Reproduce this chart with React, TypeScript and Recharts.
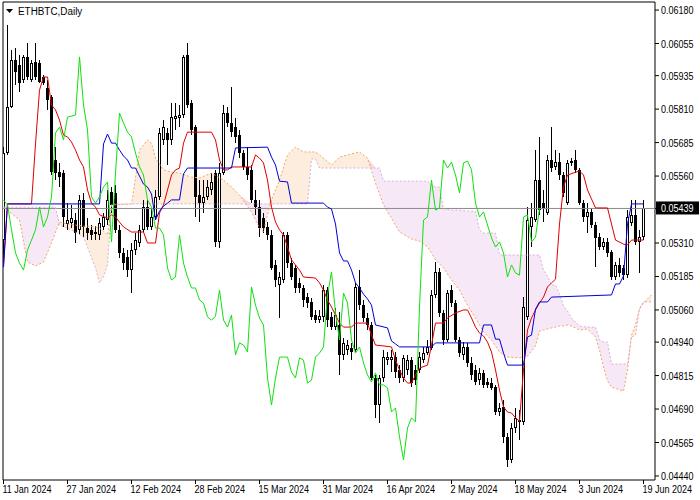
import { ComposedChart, Bar, Line, Area, XAxis, YAxis, ReferenceLine, ReferenceArea } from 'recharts';

const AXIS_FONT = "'Liberation Sans', Arial, sans-serif";

// daily bars, day 0 = 11 Jan 2024
const opens = [
  0.05321, 0.05646, 0.05818, 0.05993, 0.05975, 0.05919, 0.06005, 0.05919, 0.05986, 0.05982,
  0.05930, 0.05889, 0.05855, 0.05620, 0.05575, 0.05571, 0.05381, 0.05385, 0.05396, 0.05359,
  0.05471, 0.05366, 0.05359, 0.05351, 0.05340, 0.05370, 0.05396, 0.05500, 0.05497, 0.05359,
  0.05273, 0.05258, 0.05209, 0.05284, 0.05310, 0.05359, 0.05444, 0.05370, 0.05407, 0.05482,
  0.05695, 0.05721, 0.05695, 0.05773, 0.05777, 0.05788, 0.06012, 0.05833, 0.05743, 0.05489,
  0.05459, 0.05482, 0.05508, 0.05571, 0.05314, 0.05571, 0.05795, 0.05758, 0.05743, 0.05713,
  0.05646, 0.05594, 0.05583, 0.05471, 0.05444, 0.05403, 0.05370, 0.05340, 0.05228, 0.05153,
  0.05172, 0.05340, 0.05235, 0.05217, 0.05161, 0.05142, 0.05108, 0.05090, 0.05041, 0.05022,
  0.05034, 0.05134, 0.05034, 0.04996, 0.05004, 0.04892, 0.04910, 0.04918, 0.04910, 0.05146,
  0.05078, 0.05030, 0.05004, 0.04806, 0.04705, 0.04806, 0.04873, 0.04873, 0.04884, 0.04836,
  0.04806, 0.04836, 0.04873, 0.04836, 0.04836, 0.04873, 0.04899, 0.04918, 0.05116, 0.05202,
  0.05049, 0.04948, 0.05134, 0.05086, 0.04948, 0.04892, 0.04922, 0.04862, 0.04836, 0.04798,
  0.04825, 0.04791, 0.04787, 0.04772, 0.04679, 0.04698, 0.04586, 0.04500, 0.04619, 0.04649,
  0.04642, 0.05034, 0.05370, 0.05396, 0.05545, 0.05459, 0.05422, 0.05620, 0.05594, 0.05612,
  0.05564, 0.05459, 0.05609, 0.05620, 0.05583, 0.05459, 0.05407, 0.05426, 0.05377, 0.05332,
  0.05295, 0.05314, 0.05277, 0.05183, 0.05228, 0.05217, 0.05190, 0.05385, 0.05415, 0.05314,
  0.05332,
];
const highs = [
  0.05668, 0.06124, 0.06031, 0.06038, 0.06012, 0.06012, 0.06057, 0.05993, 0.06057, 0.05993,
  0.05937, 0.05919, 0.05863, 0.05668, 0.05609, 0.05583, 0.05459, 0.05452, 0.05422, 0.05489,
  0.05497, 0.05403, 0.05377, 0.05373, 0.05403, 0.05422, 0.05508, 0.05519, 0.05527, 0.05377,
  0.05291, 0.05284, 0.05310, 0.05347, 0.05377, 0.05471, 0.05471, 0.05441, 0.05508, 0.05739,
  0.05769, 0.05739, 0.05833, 0.05833, 0.05825, 0.06012, 0.06057, 0.05844, 0.05751, 0.05545,
  0.05545, 0.05545, 0.05571, 0.05583, 0.05609, 0.05825, 0.05818, 0.05892, 0.05777, 0.05732,
  0.05657, 0.05668, 0.05601, 0.05508, 0.05471, 0.05422, 0.05388, 0.05359, 0.05247, 0.05202,
  0.05351, 0.05351, 0.05254, 0.05228, 0.05179, 0.05153, 0.05123, 0.05105, 0.05060, 0.05060,
  0.05153, 0.05146, 0.05052, 0.05067, 0.05052, 0.04955, 0.04948, 0.04937, 0.05161, 0.05209,
  0.05097, 0.05049, 0.05015, 0.04817, 0.04817, 0.04910, 0.04903, 0.04910, 0.04903, 0.04854,
  0.04892, 0.04892, 0.04884, 0.04854, 0.04903, 0.04922, 0.04948, 0.05134, 0.05239, 0.05217,
  0.05060, 0.05134, 0.05153, 0.05097, 0.04959, 0.04940, 0.04937, 0.04884, 0.04854, 0.04843,
  0.04836, 0.04806, 0.04806, 0.04780, 0.04713, 0.04724, 0.04601, 0.04638, 0.04694, 0.04686,
  0.05108, 0.05444, 0.05459, 0.05657, 0.05706, 0.05508, 0.05639, 0.05743, 0.05657, 0.05646,
  0.05575, 0.05620, 0.05627, 0.05657, 0.05590, 0.05471, 0.05459, 0.05441, 0.05388, 0.05347,
  0.05329, 0.05329, 0.05284, 0.05239, 0.05254, 0.05228, 0.05433, 0.05471, 0.05471, 0.05359,
  0.05471,
];
const lows = [
  0.05235, 0.05639, 0.05814, 0.05900, 0.05874, 0.05907, 0.05919, 0.05911, 0.05919, 0.05907,
  0.05900, 0.05807, 0.05564, 0.05545, 0.05519, 0.05370, 0.05359, 0.05366, 0.05310, 0.05340,
  0.05332, 0.05321, 0.05321, 0.05321, 0.05321, 0.05359, 0.05377, 0.05422, 0.05347, 0.05254,
  0.05209, 0.05183, 0.05123, 0.05265, 0.05295, 0.05351, 0.05359, 0.05359, 0.05396, 0.05471,
  0.05676, 0.05601, 0.05676, 0.05732, 0.05743, 0.05777, 0.05814, 0.05713, 0.05407, 0.05388,
  0.05422, 0.05471, 0.05489, 0.05295, 0.05291, 0.05564, 0.05743, 0.05706, 0.05683, 0.05627,
  0.05583, 0.05545, 0.05459, 0.05415, 0.05332, 0.05347, 0.05321, 0.05209, 0.05146, 0.05030,
  0.05161, 0.05217, 0.05172, 0.05123, 0.05123, 0.05071, 0.05067, 0.05022, 0.05011, 0.05011,
  0.05015, 0.04996, 0.04985, 0.04985, 0.04817, 0.04873, 0.04892, 0.04873, 0.04903, 0.05060,
  0.05015, 0.04985, 0.04798, 0.04657, 0.04638, 0.04791, 0.04854, 0.04828, 0.04806, 0.04787,
  0.04791, 0.04817, 0.04772, 0.04780, 0.04825, 0.04862, 0.04892, 0.04910, 0.05105, 0.05034,
  0.04929, 0.04940, 0.05071, 0.04940, 0.04884, 0.04873, 0.04847, 0.04798, 0.04780, 0.04780,
  0.04769, 0.04769, 0.04761, 0.04668, 0.04664, 0.04563, 0.04474, 0.04489, 0.04601, 0.04574,
  0.04630, 0.05022, 0.05295, 0.05388, 0.05415, 0.05388, 0.05415, 0.05575, 0.05583, 0.05545,
  0.05482, 0.05452, 0.05597, 0.05571, 0.05452, 0.05388, 0.05347, 0.05366, 0.05220, 0.05284,
  0.05284, 0.05258, 0.05172, 0.05172, 0.05183, 0.05172, 0.05179, 0.05373, 0.05303, 0.05198,
  0.05321,
];
const closes = [
  0.05646, 0.05818, 0.05993, 0.05949, 0.05907, 0.06005, 0.05930, 0.05982, 0.05930, 0.05911,
  0.05907, 0.05844, 0.05575, 0.05571, 0.05556, 0.05407, 0.05396, 0.05403, 0.05347, 0.05471,
  0.05370, 0.05347, 0.05340, 0.05344, 0.05385, 0.05407, 0.05471, 0.05452, 0.05359, 0.05273,
  0.05235, 0.05209, 0.05284, 0.05321, 0.05359, 0.05444, 0.05370, 0.05407, 0.05482, 0.05721,
  0.05743, 0.05695, 0.05780, 0.05784, 0.05788, 0.06005, 0.05825, 0.05732, 0.05482, 0.05459,
  0.05482, 0.05519, 0.05538, 0.05314, 0.05571, 0.05795, 0.05758, 0.05724, 0.05706, 0.05646,
  0.05594, 0.05564, 0.05471, 0.05444, 0.05366, 0.05366, 0.05340, 0.05217, 0.05172, 0.05183,
  0.05340, 0.05235, 0.05183, 0.05142, 0.05142, 0.05097, 0.05086, 0.05034, 0.05022, 0.05037,
  0.05134, 0.05022, 0.04996, 0.05041, 0.04892, 0.04937, 0.04929, 0.04903, 0.05146, 0.05078,
  0.05030, 0.05004, 0.04806, 0.04705, 0.04806, 0.04884, 0.04884, 0.04884, 0.04828, 0.04806,
  0.04881, 0.04873, 0.04787, 0.04798, 0.04884, 0.04899, 0.04922, 0.05116, 0.05202, 0.05049,
  0.04948, 0.05123, 0.05086, 0.04948, 0.04899, 0.04922, 0.04862, 0.04817, 0.04791, 0.04825,
  0.04780, 0.04780, 0.04769, 0.04679, 0.04694, 0.04586, 0.04500, 0.04619, 0.04657, 0.04642,
  0.05071, 0.05396, 0.05407, 0.05545, 0.05433, 0.05441, 0.05620, 0.05590, 0.05612, 0.05564,
  0.05497, 0.05609, 0.05616, 0.05583, 0.05459, 0.05407, 0.05426, 0.05377, 0.05329, 0.05295,
  0.05314, 0.05273, 0.05183, 0.05228, 0.05198, 0.05190, 0.05407, 0.05415, 0.05314, 0.05332,
  0.05439,
];

// Tenkan-sen (red)
const tenkanDays = [
  0, 1, 7, 8, 9, 10, 11, 12, 13, 14,
  15, 16, 17, 18, 19, 20, 21, 22, 23, 24,
  26, 27, 28, 29, 30, 32, 35, 36, 38, 39,
  40, 41, 42, 43, 44, 45, 46, 52, 53, 54,
  55, 56, 57, 62, 63, 64, 65, 66, 67, 68,
  69, 70, 71, 72, 73, 74, 75, 78, 79, 80,
  81, 82, 83, 84, 85, 87, 88, 91, 92, 93,
  97, 98, 99, 100, 101, 102, 103, 104, 106, 107,
  108, 110, 111, 113, 115, 116, 117, 118, 119, 120,
  121, 122, 123, 124, 125, 126, 127, 128, 129, 130,
  131, 132, 133, 134, 135, 136, 137, 138, 139, 140,
  141, 144, 145, 146, 148, 151, 152, 153, 155, 156,
  157, 160,
];
const tenkanVals = [
  0.05228, 0.05456, 0.05456, 0.05680, 0.05881, 0.05930, 0.05930, 0.05825, 0.05807, 0.05769,
  0.05713, 0.05706, 0.05687, 0.05657, 0.05620, 0.05594, 0.05508, 0.05459, 0.05444, 0.05415,
  0.05403, 0.05415, 0.05407, 0.05388, 0.05370, 0.05351, 0.05351, 0.05310, 0.05310, 0.05422,
  0.05452, 0.05508, 0.05564, 0.05583, 0.05590, 0.05683, 0.05724, 0.05724, 0.05695, 0.05620,
  0.05583, 0.05583, 0.05594, 0.05594, 0.05639, 0.05627, 0.05609, 0.05545, 0.05444, 0.05388,
  0.05359, 0.05340, 0.05295, 0.05247, 0.05228, 0.05209, 0.05183, 0.05179, 0.05161, 0.05134,
  0.05097, 0.05071, 0.05041, 0.05011, 0.04996, 0.04996, 0.05011, 0.05011, 0.04966, 0.04929,
  0.04922, 0.04873, 0.04836, 0.04806, 0.04787, 0.04787, 0.04817, 0.04843, 0.04854, 0.04929,
  0.05011, 0.05011, 0.05030, 0.05049, 0.05060, 0.05060, 0.05030, 0.04996, 0.04974, 0.04963,
  0.04940, 0.04903, 0.04836, 0.04761, 0.04698, 0.04679, 0.04675, 0.04657, 0.04645, 0.04836,
  0.04985, 0.05030, 0.05060, 0.05086, 0.05108, 0.05146, 0.05161, 0.05175, 0.05381, 0.05519,
  0.05564, 0.05579, 0.05564, 0.05508, 0.05441, 0.05441, 0.05381, 0.05321, 0.05306, 0.05303,
  0.05321, 0.05321,
];

// Kijun-sen (blue)
const kijunDays = [
  0, 1, 24, 25, 26, 27, 28, 29, 30, 31,
  32, 33, 34, 35, 36, 37, 38, 39, 40, 41,
  42, 44, 45, 46, 57, 58, 66, 67, 68, 69,
  71, 72, 80, 81, 82, 83, 84, 85, 86, 87,
  88, 89, 90, 91, 92, 93, 96, 97, 98, 99,
  107, 108, 119, 120, 122, 123, 124, 125, 126, 130,
  131, 132, 133, 134, 136, 137, 152, 153, 154, 155,
  156, 157, 160,
];
const kijunVals = [
  0.05220, 0.05456, 0.05456, 0.05680, 0.05717, 0.05683, 0.05683, 0.05657, 0.05635, 0.05620,
  0.05590, 0.05590, 0.05560, 0.05530, 0.05519, 0.05493, 0.05396, 0.05429, 0.05448, 0.05459,
  0.05471, 0.05471, 0.05568, 0.05590, 0.05590, 0.05665, 0.05668, 0.05631, 0.05601, 0.05541,
  0.05538, 0.05459, 0.05459, 0.05444, 0.05437, 0.05381, 0.05273, 0.05243, 0.05243, 0.05209,
  0.05161, 0.05142, 0.05119, 0.05101, 0.05078, 0.05004, 0.04993, 0.04944, 0.04933, 0.04922,
  0.04922, 0.04937, 0.04937, 0.05004, 0.05004, 0.04951, 0.04951, 0.04899, 0.04854, 0.04854,
  0.04959, 0.04966, 0.05063, 0.05090, 0.05090, 0.05108, 0.05116, 0.05157, 0.05157, 0.05187,
  0.05381, 0.05456, 0.05456,
];

// Senkou span A / B, already shifted forward
const cloudDays = [
  0, 1, 4, 6, 8, 10, 12, 13, 14, 16,
  18, 20, 21, 23, 24, 25, 26, 27, 32, 33,
  34, 36, 37, 38, 40, 42, 44, 47, 49, 52,
  55, 57, 59, 62, 64, 65, 66, 67, 69, 71,
  73, 75, 76, 77, 78, 79, 80, 82, 84, 86,
  89, 91, 93, 94, 95, 97, 99, 102, 104, 106,
  107, 108, 109, 110, 112, 114, 116, 118, 119, 120,
  122, 123, 124, 126, 129, 131, 133, 134, 135, 136,
  137, 138, 139, 140, 141, 142, 143, 144, 146, 148,
  149, 150, 151, 152, 155, 156, 157, 158, 159, 160,
  161, 162,
];
const spanA = [
  0.05441, 0.05433, 0.05396, 0.05239, 0.05224, 0.05239, 0.05310, 0.05351, 0.05388, 0.05381,
  0.05377, 0.05373, 0.05373, 0.05370, 0.05366, 0.05355, 0.05340, 0.05452, 0.05456, 0.05553,
  0.05657, 0.05695, 0.05683, 0.05627, 0.05583, 0.05575, 0.05571, 0.05556, 0.05553, 0.05571,
  0.05545, 0.05519, 0.05489, 0.05426, 0.05366, 0.05351, 0.05415, 0.05471, 0.05545, 0.05639,
  0.05668, 0.05650, 0.05650, 0.05650, 0.05650, 0.05639, 0.05627, 0.05601, 0.05631, 0.05639,
  0.05650, 0.05627, 0.05534, 0.05493, 0.05452, 0.05403, 0.05351, 0.05325, 0.05317, 0.05295,
  0.05273, 0.05247, 0.05232, 0.05217, 0.05172, 0.05134, 0.05078, 0.05030, 0.05004, 0.04978,
  0.04948, 0.04925, 0.04903, 0.04884, 0.04881, 0.04888, 0.04925, 0.04981, 0.04985, 0.04989,
  0.04993, 0.04996, 0.05000, 0.05000, 0.05004, 0.05000, 0.04993, 0.04985, 0.04989, 0.04959,
  0.04910, 0.04847, 0.04795, 0.04772, 0.04757, 0.04836, 0.04966, 0.05004, 0.05063, 0.05086,
  0.05101, 0.05116,
];
const spanB = [
  0.05444, 0.05444, 0.05444, 0.05444, 0.05444, 0.05444, 0.05444, 0.05444, 0.05377, 0.05366,
  0.05351, 0.05332, 0.05295, 0.05217, 0.05161, 0.05183, 0.05228, 0.05456, 0.05456, 0.05456,
  0.05456, 0.05456, 0.05456, 0.05456, 0.05456, 0.05456, 0.05456, 0.05456, 0.05456, 0.05456,
  0.05456, 0.05456, 0.05456, 0.05456, 0.05456, 0.05456, 0.05456, 0.05456, 0.05456, 0.05456,
  0.05456, 0.05456, 0.05456, 0.05624, 0.05624, 0.05590, 0.05590, 0.05590, 0.05590, 0.05590,
  0.05590, 0.05590, 0.05590, 0.05590, 0.05541, 0.05541, 0.05541, 0.05541, 0.05541, 0.05541,
  0.05527, 0.05519, 0.05519, 0.05437, 0.05433, 0.05433, 0.05429, 0.05429, 0.05359, 0.05347,
  0.05347, 0.05347, 0.05265, 0.05265, 0.05265, 0.05265, 0.05265, 0.05265, 0.05209, 0.05187,
  0.05153, 0.05153, 0.05119, 0.05075, 0.05056, 0.05030, 0.05015, 0.05000, 0.04996, 0.04996,
  0.04948, 0.04940, 0.04940, 0.04858, 0.04858, 0.04858, 0.04959, 0.04966, 0.05067, 0.05090,
  0.05090, 0.05090,
];

const priceTicks = [
  0.0618, 0.06055, 0.05935, 0.0581, 0.05685, 0.0556, 0.0531,
  0.05185, 0.0506, 0.0494, 0.04815, 0.0469, 0.04565, 0.0444,
];
const lastPrice = 0.05439;
const dateTicks = [0, 16, 32, 48, 64, 80, 96, 112, 128, 144, 160];
const dateLabels = [
  '11 Jan 2024', '27 Jan 2024', '12 Feb 2024', '28 Feb 2024', '15 Mar 2024', '31 Mar 2024',
  '16 Apr 2024', '2 May 2024', '18 May 2024', '3 Jun 2024', '19 Jun 2024',
];

const candles = opens.map((open, i) => ({
  day: i,
  open,
  high: highs[i],
  low: lows[i],
  close: closes[i],
  range: [lows[i], highs[i]],
}));
const tenkan = tenkanDays.map((day, k) => ({ day, v: tenkanVals[k] }));
const kijun = kijunDays.map((day, k) => ({ day, v: kijunVals[k] }));
// chikou span = closes plotted 26 bars back
const chikou = closes.slice(26).map((v, day) => ({ day, v }));
const cloud = cloudDays.map((day, k) => {
  const a = spanA[k];
  const b = spanB[k];
  const top = Math.max(a, b);
  return { day, a, b, up: [b, top], down: [a, top] };
});

function Candle(props: any) {
  const { x, y, width, height, payload } = props;
  if (!payload || x == null || y == null) return null;
  const top = Math.min(y, y + height);
  const bottom = Math.max(y, y + height);
  const span = payload.high - payload.low || 1e-9;
  const toY = (v: number) => top + ((payload.high - v) / span) * (bottom - top);
  const cx = x + width / 2;
  const o = toY(payload.open);
  const c = toY(payload.close);
  const bt = Math.round(Math.min(o, c));
  let bb = Math.round(Math.max(o, c));
  if (bb - bt < 1) bb = bt + 1;
  const up = payload.close > payload.open;
  return (
    <g shapeRendering="crispEdges">
      <line x1={cx} x2={cx} y1={Math.round(top)} y2={Math.round(bottom)} stroke="#000" strokeWidth={1} />
      {up ? (
        <rect x={cx - 1} y={bt + 0.5} width={2} height={Math.max(bb - bt - 1, 1)} fill="#fff" stroke="#000" strokeWidth={1} />
      ) : (
        <rect x={cx - 1.5} y={bt} width={3} height={bb - bt} fill="#000" />
      )}
    </g>
  );
}

function PriceTick(props: any) {
  const { x, y, payload } = props;
  const v = payload.value;
  const label = v.toFixed(5);
  const t = `translate(${x},${y + 4}) scale(0.82,1)`;
  if (v === lastPrice) {
    return (
      <g>
        <rect x={x - 5} y={y - 7} width={43} height={13} fill="#000" />
        <text transform={t} fontSize={11} fontFamily={AXIS_FONT} fill="#fff">{label}</text>
      </g>
    );
  }
  return (
    <text transform={t} fontSize={11} fontFamily={AXIS_FONT} fill="#000">{label}</text>
  );
}

function DateTick(props: any) {
  const { x, y, payload } = props;
  const idx = dateTicks.indexOf(payload.value);
  return (
    <text transform={`translate(${x - 1},${y + 7}) scale(0.82,1)`} fontSize={11} fontFamily={AXIS_FONT} fill="#000">
      {dateLabels[idx]}
    </text>
  );
}

export default function App() {
  return (
    <div style={{ position: 'absolute', left: 0, top: 0, width: 700, height: 500, background: '#fff' }}>
      <ComposedChart width={700} height={500} data={candles} margin={{ top: 2, right: 0, bottom: 0, left: 3 }}>
        <XAxis
          dataKey="day"
          type="number"
          domain={[-0.125, 162.875]}
          allowDataOverflow
          ticks={dateTicks}
          interval={0}
          height={20}
          tickSize={4}
          tickMargin={2}
          axisLine={false}
          tickLine={{ stroke: '#000' }}
          tick={<DateTick />}
        />
        <YAxis
          orientation="right"
          type="number"
          domain={[0.04425, 0.0621]}
          allowDataOverflow
          ticks={[...priceTicks, lastPrice]}
          interval={0}
          width={45}
          tickSize={4}
          tickMargin={2}
          axisLine={false}
          tickLine={{ stroke: '#000' }}
          tick={<PriceTick />}
        />
        <ReferenceLine y={lastPrice} stroke="#8a8a8a" strokeWidth={1} />
        <Bar dataKey="range" barSize={3} shape={<Candle />} isAnimationActive={false} />
        {/* kumo: sandy where span A is above span B, thistle otherwise */}
        <Area data={cloud} dataKey="up" type="linear" stroke="none" fill="#F4A460" fillOpacity={0.2} dot={false} activeDot={false} isAnimationActive={false} />
        <Area data={cloud} dataKey="down" type="linear" stroke="none" fill="#D08CD0" fillOpacity={0.2} dot={false} activeDot={false} isAnimationActive={false} />
        <Line data={cloud} dataKey="a" type="linear" stroke="#F4A460" strokeWidth={1} strokeDasharray="2 2" dot={false} activeDot={false} isAnimationActive={false} />
        <Line data={cloud} dataKey="b" type="linear" stroke="#D8B0D8" strokeWidth={1} strokeDasharray="2 2" dot={false} activeDot={false} isAnimationActive={false} />
        <Line data={tenkan} dataKey="v" type="linear" stroke="#e00000" strokeWidth={1} dot={false} activeDot={false} isAnimationActive={false} />
        <Line data={kijun} dataKey="v" type="linear" stroke="#0000d8" strokeWidth={1} dot={false} activeDot={false} isAnimationActive={false} />
        <Line data={chikou} dataKey="v" type="linear" stroke="#10e010" strokeWidth={1} dot={false} activeDot={false} isAnimationActive={false} />
        <ReferenceArea x1={-0.125} x2={162.875} y1={0.04425} y2={0.0621} fill="none" stroke="#000" strokeWidth={1} ifOverflow="visible" />
      </ComposedChart>
      <svg style={{ position: 'absolute', left: 0, top: 0 }} width={120} height={20}>
        <path d="M6 9 L13 9 L9.5 13 Z" fill="#000" />
        <text transform="translate(18,15) scale(0.9,1)" fontSize={11} fontFamily={AXIS_FONT} fill="#000">ETHBTC,Daily</text>
      </svg>
    </div>
  );
}
